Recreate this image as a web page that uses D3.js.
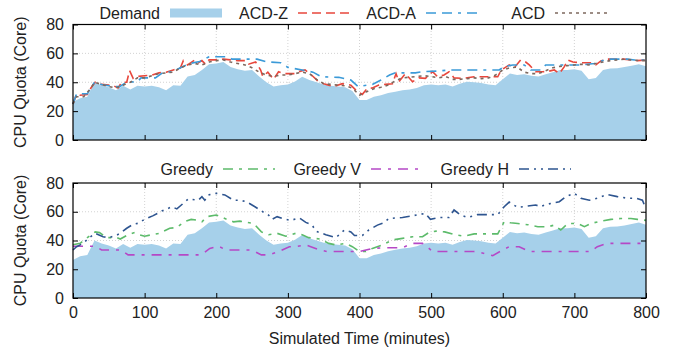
<!DOCTYPE html>
<html><head><meta charset="utf-8">
<script src="https://cdn.jsdelivr.net/npm/d3@7"></script>
<style>
body{margin:0;background:#fff;}
text{font-family:"Liberation Sans",Arial,sans-serif;fill:#222;}
</style></head>
<body><svg id="c" width="686" height="352"></svg>
<script>
// ---- data ----
const xTicks = [0,100,200,300,400,500,600,700,800];
const yTicks = [0,20,40,60,80];
const demandTime = d3.range(0, 801, 10);
const demand = [26.5,29,30,40,38,36.5,34.5,37.5,35,37.5,37,37.5,36.5,34.5,38,37.5,44,45,48.5,52.5,
  53,54,50.5,49,48,48.5,44,40,37,38,38.5,40.5,43.8,41.5,40,38.5,37.5,37,36.5,34,
  27.7,27.7,30,31,32.5,33.5,34.5,35,36,38,38.5,38,38.5,37,39,40.4,40,39.5,38.5,38,
  42,46,45,45.5,44.5,44,45.5,47,48.5,48.5,49,48,42,43,48.5,49.5,49.7,50.5,51.5,52.5,51];
const acdZ = [[0,25],[5,32],[10,31],[20,31.5],[25,36],[31,40],[40,38.5],[50,38],[57,37.5],[63,36],[68,40],[75,40],[79,48],[84,42.7],[90,44],[100,44.5],[110,45],[120,46.5],[130,47],[140,48.5],[150,50],[154,55],[160,52],[170,55.4],[175,53.5],[180,55],[185,52.5],[190,55.5],[200,55.5],[210,56],[220,55.5],[230,55],[240,55],[245,52.5],[255,54],[262,48.5],[265,44],[272,47],[280,42],[287,47.3],[295,46],[310,46],[315,47.3],[324,48.5],[333,45],[343,40.4],[350,39],[357,38],[364,37],[376,39],[388,38],[397,33.5],[404,31.6],[411,35.8],[418,36],[427,38],[436,38.5],[446,39],[451,46],[455,40.4],[464,46],[474,40.4],[483,43],[492,42.7],[502,47.3],[509,43.8],[518,45],[525,47.3],[532,43],[545,42.7],[560,43.8],[575,43.8],[593,43.8],[598,48.5],[609,52],[616,50],[625,55.4],[632,54],[637,52],[646,47.3],[656,47.3],[663,47.5],[672,48.5],[679,46],[686,50.8],[691,55.4],[698,54],[709,53.5],[723,53.5],[730,52],[737,54.8],[746,56],[769,56],[779,55.4],[788,55],[800,55.4]];
const acdA = [[0,25],[5,32],[20,32],[30,40],[40,38.5],[55,37],[65,37],[75,40],[90,40.4],[95,43],[115,43],[125,46.5],[140,47.5],[150,50],[163,53],[177,54.4],[190,57.7],[215,57.7],[222,56],[257,56],[270,54.2],[290,53.5],[300,50.3],[320,48.5],[335,47],[347,43.8],[371,43.4],[388,41.5],[398,37],[411,38],[418,38.5],[430,41.5],[442,45],[450,46.5],[478,46.5],[488,47.3],[511,47.8],[525,48.5],[595,48.5],[602,50.8],[614,52],[630,52],[639,48.5],[653,48.5],[660,52],[709,52],[728,53],[746,56],[774,56],[784,55.4],[800,55.4]];
const acd = [[0,25],[5,30],[15,30],[25,36],[30,40],[40,38.5],[50,37],[60,36],[70,38],[80,40],[90,43],[100,43],[110,44.5],[120,46],[130,46.5],[140,47],[150,50],[160,52],[170,53],[180,52],[190,54],[200,55],[210,55.5],[220,54],[230,53],[240,52],[250,50],[260,47],[270,45],[280,44],[290,45],[300,45],[310,46],[320,47],[330,46],[340,42],[350,39],[360,38.5],[370,38],[380,37.5],[390,36],[400,31],[410,33.5],[420,35.5],[430,36.5],[440,38],[450,41],[460,43],[470,43.5],[480,44],[490,44.5],[500,44],[510,43],[520,44],[530,42],[540,42],[550,42.5],[560,43],[570,42.5],[580,43],[590,45],[600,48.5],[610,50],[620,50.5],[630,47],[640,46],[650,46],[660,48],[670,50],[680,51],[690,51.5],[700,52],[710,52.5],[720,52],[730,53],[740,54],[750,55],[760,55.5],[770,56],[780,55.5],[790,55],[800,55]];
const greedy = [[0,37],[10,38],[20,42],[31,46],[37,45.5],[47,42],[61,42],[66,41],[77,44],[86,45.5],[93,44],[100,43],[110,44],[121,45],[135,48.5],[145,49],[155,53],[165,54.7],[175,54],[180,53],[187,56.6],[200,57.7],[212,55.3],[224,53],[233,53.5],[242,52.6],[252,52],[263,46],[273,44],[285,45],[297,43],[311,45],[320,44],[329,42],[345,41],[357,38],[367,36.9],[381,38],[390,35.7],[400,32.3],[409,32.3],[418,34.5],[432,36.9],[446,40.4],[460,41.5],[474,42.6],[488,42.6],[497,45.6],[507,46.5],[519,46],[533,44],[546,43],[560,44.6],[593,44.6],[602,53],[611,52.3],[621,51.8],[635,51],[649,49.6],[663,49.6],[672,50.7],[681,47.3],[691,51.8],[705,51.8],[714,49.6],[723,51.8],[737,53.5],[751,54.7],[765,55.3],[779,55.3],[788,54.7],[800,54]];
const greedyV = [[0,36],[31,36],[40,33.4],[66,33.4],[70,32.3],[77,30],[177,30],[182,31],[191,34.5],[203,36],[214,33.4],[247,33.4],[254,32.3],[263,30],[273,30],[287,32.3],[302,35.7],[311,35.7],[325,36.9],[332,35.7],[345,33.4],[355,32.3],[400,32.3],[418,34.5],[437,35],[460,35],[474,38],[488,38],[497,34.5],[502,32.3],[560,32.3],[570,31.5],[586,29.5],[600,33.4],[609,35.7],[623,35.7],[637,32.3],[723,32.3],[732,35.7],[746,38],[800,38]];
const greedyH = [[0,33.4],[5,35.7],[14,38],[23,42],[31,45],[42,42.6],[50,42],[60,43.5],[66,45],[75,48.5],[84,51.3],[91,52],[100,54.7],[112,57.3],[124,60.5],[131,61.9],[138,63.5],[145,62],[161,68.9],[175,68],[180,70.5],[184,68],[189,71.7],[200,72.8],[212,71.7],[224,68],[233,68],[242,67],[254,63.5],[265,60],[273,57.7],[278,54.7],[285,56.6],[292,55.3],[304,54],[316,55.7],[325,52.6],[334,50.7],[339,46.5],[353,44],[367,42],[379,47.3],[388,46],[393,43.5],[404,43.5],[413,47.3],[425,50.7],[434,52.3],[441,55.3],[451,55.7],[460,56],[472,57],[483,58],[492,58.9],[499,54.7],[511,56],[525,56],[532,61.2],[541,57.7],[551,56],[565,58],[593,58],[602,63.5],[609,66.7],[621,63],[635,64],[646,64.7],[653,63.5],[660,65],[667,65.8],[679,67],[688,70.5],[700,72.8],[709,69.4],[721,68],[732,69.4],[746,72],[760,70.5],[774,69.4],[786,69.4],[795,68],[800,62]];

// ---- layout / style ----
const svg = d3.select("#c");
const FS = 16;
const x = d3.scaleLinear().domain([0,800]).range([73,646]);
const panels = [
  {y: d3.scaleLinear().domain([0,80]).range([140,24.5]), xLabels:false,
   series:[{d:acdZ,c:"#e8473c",dash:"9,5"},{d:acdA,c:"#3b9ad8",dash:"10,6,10,6,3,6"},{d:acd,c:"#7d685e",dash:"3,4"}],
   legend:{y:13, items:[
     {t:"Demand",x:160,type:"area"},{t:"ACD-Z",x:288,c:"#e8473c",dash:"9,5"},
     {t:"ACD-A",x:416,c:"#3b9ad8",dash:"10,6,10,6,3,6"},{t:"ACD",x:545,c:"#7d685e",dash:"3,4"}]}},
  {y: d3.scaleLinear().domain([0,80]).range([298,183]), xLabels:true,
   series:[{d:greedy,c:"#5dbb6b",dash:"10,6,3,6"},{d:greedyV,c:"#b548c6",dash:"10,7,3,7"},{d:greedyH,c:"#2e5590",dash:"10,5,2,5,2,5"}],
   legend:{y:169, items:[
     {t:"Greedy",x:213,c:"#5dbb6b",dash:"10,6,3,6"},{t:"Greedy V",x:361,c:"#b548c6",dash:"10,7,3,7"},
     {t:"Greedy H",x:509,c:"#2e5590",dash:"10,5,2,5,2,5"}]}}
];
const demandPts = demandTime.map((t,i)=>[t,demand[i]]);

panels.forEach(p=>{
  const y = p.y;
  const [y0,y1] = y.range();
  const g = svg.append("g");
  // grid
  g.append("g").selectAll("line").data(xTicks.slice(1,-1)).join("line")
    .attr("x1",d=>x(d)).attr("x2",d=>x(d)).attr("y1",y0).attr("y2",y1)
    .attr("stroke","#c8c8c8").attr("stroke-width",0.8).attr("stroke-dasharray","1,2");
  g.append("g").selectAll("line").data(yTicks.slice(1,-1)).join("line")
    .attr("y1",d=>y(d)).attr("y2",d=>y(d)).attr("x1",x(0)).attr("x2",x(800))
    .attr("stroke","#c8c8c8").attr("stroke-width",0.8).attr("stroke-dasharray","1,2");
  // demand area
  g.append("path").datum(demandPts)
    .attr("d", d3.area().x(d=>x(d[0])).y0(y(0)).y1(d=>y(d[1])))
    .attr("fill","#a6d0ea");
  // lines
  p.series.forEach(s=>{
    g.append("path").datum(s.d)
      .attr("d", d3.line().x(d=>x(d[0])).y(d=>y(d[1])))
      .attr("fill","none").attr("stroke",s.c).attr("stroke-width",1.6)
      .attr("stroke-dasharray",s.dash);
  });
  // axes
  const ay = g.append("g").attr("transform",`translate(${x(0)},0)`)
    .call(d3.axisLeft(y).tickValues(yTicks).tickSize(-5).tickPadding(9));
  ay.select(".domain").remove();
  ay.selectAll("text").style("font-size",FS+"px").attr("fill","#222");
  const ayr = g.append("g").attr("transform",`translate(${x(800)},0)`)
    .call(d3.axisRight(y).tickValues(yTicks).tickSize(-5).tickFormat(""));
  ayr.select(".domain").remove();
  const ax = g.append("g").attr("transform",`translate(0,${y0})`)
    .call(d3.axisBottom(x).tickValues(xTicks).tickSize(-5).tickPadding(9)
      .tickFormat(p.xLabels ? d3.format("d") : ""));
  ax.select(".domain").remove();
  ax.selectAll("text").style("font-size",FS+"px").attr("fill","#222");
  const axt = g.append("g").attr("transform",`translate(0,${y1})`)
    .call(d3.axisTop(x).tickValues(xTicks).tickSize(-5).tickFormat(""));
  axt.select(".domain").remove();
  g.selectAll(".tick line").attr("stroke","#000");
  // frame
  g.append("rect").attr("x",x(0)).attr("y",y1).attr("width",x(800)-x(0)).attr("height",y0-y1)
    .attr("fill","none").attr("stroke","#000").attr("stroke-width",1.2);
  // y title
  g.append("text").attr("transform",`translate(26,${(y0+y1)/2}) rotate(-90)`)
    .attr("text-anchor","middle").style("font-size",FS+"px").text("CPU Quota (Core)");
  // legend
  p.legend.items.forEach(it=>{
    g.append("text").attr("x",it.x).attr("y",p.legend.y).attr("dy","0.35em")
      .attr("text-anchor","end").style("font-size",FS+"px").text(it.t);
    if(it.type==="area"){
      g.append("rect").attr("x",it.x+10).attr("y",p.legend.y-4.5).attr("width",52).attr("height",9)
        .attr("fill","#a6d0ea");
    } else {
      g.append("line").attr("x1",it.x+10).attr("x2",it.x+62).attr("y1",p.legend.y).attr("y2",p.legend.y)
        .attr("stroke",it.c).attr("stroke-width",1.6).attr("stroke-dasharray",it.dash);
    }
  });
});
svg.append("text").attr("x",(x(0)+x(800))/2).attr("y",344).attr("text-anchor","middle")
  .style("font-size",FS+"px").text("Simulated Time (minutes)");
</script></body></html>
